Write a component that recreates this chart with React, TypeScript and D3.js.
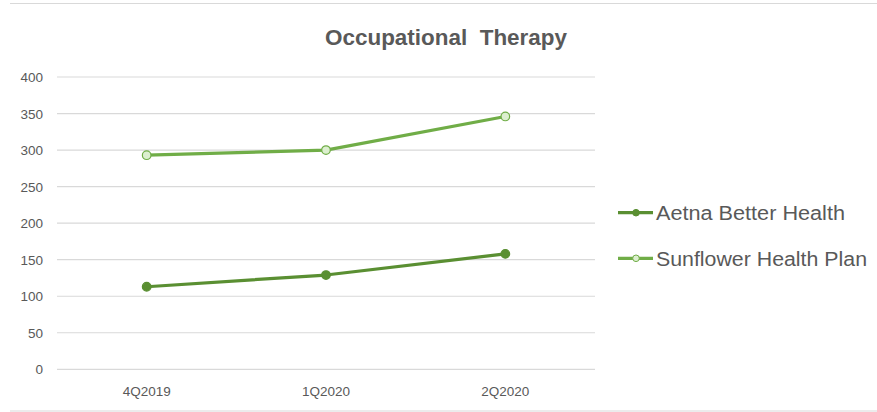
import React from "react";
import * as d3 from "d3";

const categories = ["4Q2019", "1Q2020", "2Q2020"];
const aetna = [113, 129, 158];
const sunflower = [293, 300, 346];
const yTicks = [0, 50, 100, 150, 200, 250, 300, 350, 400];
const seriesNames = ["Aetna Better Health", "Sunflower Health Plan"];

const W = 877;
const H = 412;
const textColor = "#595959";
const gridColor = "#d9d9d9";
const aetnaColor = "#5a8f32";
const sunColor = "#70ad47";
const font = "'Liberation Sans', Arial, sans-serif";

export default function App() {
  const x = d3.scalePoint<string>().domain(categories).range([57, 595]).padding(0.5);
  const y = d3.scaleLinear().domain([0, 400]).range([369.3, 77]);
  const line = d3
    .line<number>()
    .x((_, i) => x(categories[i]) as number)
    .y((d) => y(d));

  const series = [
    { name: seriesNames[0], data: aetna, color: aetnaColor, fill: aetnaColor, stroke: aetnaColor },
    { name: seriesNames[1], data: sunflower, color: sunColor, fill: "#dcefcf", stroke: sunColor },
  ];
  const legendY = [212.7, 258.3];
  const legendW = [189, 211];

  return (
    <svg width={W} height={H} style={{ position: "absolute", left: 0, top: 0, background: "#fff" }}>
      <rect x={0} y={0} width={W} height={H} fill="#fff" />
      <line x1={10} x2={W} y1={3.5} y2={3.5} stroke={gridColor} strokeWidth={1.2} />
      <line x1={10} x2={W} y1={411} y2={411} stroke={gridColor} strokeWidth={1.2} />
      <text
        x={446}
        y={45}
        textAnchor="middle"
        fontFamily={font}
        fontWeight="bold"
        fontSize={22}
        fill={textColor}
        textLength={242}
        lengthAdjust="spacingAndGlyphs"
        style={{ whiteSpace: "pre" }}
      >
        {"Occupational  Therapy"}
      </text>
      {yTicks.map((t) => (
        <g key={t}>
          <line x1={57} x2={595} y1={y(t)} y2={y(t)} stroke={gridColor} strokeWidth={1.2} />
          <text x={43} y={y(t) + 5} textAnchor="end" fontFamily={font} fontSize={13.5} fill={textColor}>
            {t}
          </text>
        </g>
      ))}
      {categories.map((c) => (
        <text key={c} x={x(c)} y={396} textAnchor="middle" fontFamily={font} fontSize={13.5} fill={textColor}>
          {c}
        </text>
      ))}
      {series.map((s) => (
        <g key={s.name}>
          <path d={line(s.data) as string} fill="none" stroke={s.color} strokeWidth={3.2} strokeLinejoin="round" strokeLinecap="round" />
          {s.data.map((v, i) => (
            <circle key={i} cx={x(categories[i])} cy={y(v)} r={4.3} fill={s.fill} stroke={s.stroke} strokeWidth={1.2} />
          ))}
        </g>
      ))}
      {series.map((s, i) => (
        <g key={"l" + s.name}>
          <line x1={618} x2={653} y1={legendY[i]} y2={legendY[i]} stroke={s.color} strokeWidth={3.2} />
          <circle cx={636} cy={legendY[i]} r={3.3} fill={s.fill} stroke={s.stroke} strokeWidth={1} />
          <text
            x={656}
            y={legendY[i] + 7.5}
            fontFamily={font}
            fontSize={20}
            fill={textColor}
            textLength={legendW[i]}
            lengthAdjust="spacingAndGlyphs"
          >
            {s.name}
          </text>
        </g>
      ))}
    </svg>
  );
}
